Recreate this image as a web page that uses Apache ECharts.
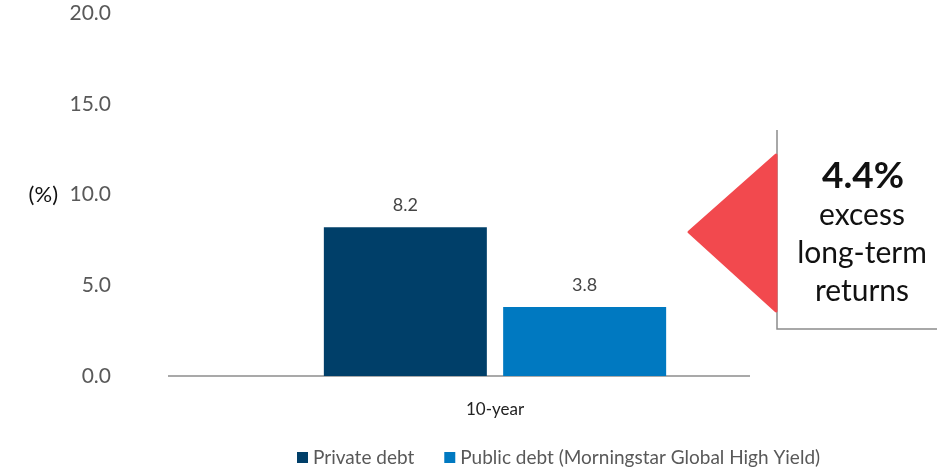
<!DOCTYPE html>
<html>
<head>
<meta charset="utf-8">
<script src="https://cdn.jsdelivr.net/npm/echarts@6/dist/echarts.min.js"></script>
<style>
html,body{margin:0;padding:0;background:#fff;}
#chart{width:943px;height:469px;}
</style>
</head>
<body>
<div id="chart"></div>
<script>
const categories = ['10-year'];
const seriesNames = ['Private debt', 'Public debt (Morningstar Global High Yield)'];
const privateDebt = [8.2];
const publicDebt = [3.8];
const yMin = 0, yMax = 20, yInterval = 5;
const yAxisName = '(%)';
const calloutHeadline = '4.4%';
const calloutText = 'excess\nlong-term\nreturns';

const FONT = 'Lato';
const chart = echarts.init(document.getElementById('chart'), null, {renderer: 'canvas'});

const option = {
  animation: false,
  backgroundColor: '#ffffff',
  textStyle: {fontFamily: FONT},
  grid: {left: 170, right: 123, top: 13, bottom: 93, containLabel: false},
  legend: {
    top: 443, left: 292,
    icon: 'rect', itemWidth: 11, itemHeight: 11, itemGap: 30,
    textStyle: {fontFamily: FONT, fontSize: 19, color: '#595959'},
    data: seriesNames
  },
  xAxis: {
    type: 'category',
    data: categories,
    axisLine: {show: false},
    axisTick: {show: false},
    axisLabel: {fontFamily: FONT, fontSize: 17, color: '#222', margin: 25}
  },
  yAxis: {
    type: 'value',
    min: yMin, max: yMax, interval: yInterval,
    name: yAxisName,
    nameLocation: 'middle',
    nameRotate: 0,
    nameGap: 112,
    nameTextStyle: {fontFamily: FONT, fontSize: 22, color: '#111'},
    axisLine: {show: false},
    axisTick: {show: false},
    splitLine: {show: false},
    axisLabel: {fontFamily: FONT, fontSize: 21, color: '#595959', margin: 59,
      formatter: v => v.toFixed(1)}
  },
  series: [
    {
      name: seriesNames[0], type: 'bar', data: privateDebt,
      barWidth: 163, barGap: '10%',
      itemStyle: {color: '#003f69'},
      label: {show: true, position: 'top', distance: 13, fontFamily: FONT, fontSize: 18, color: '#444',
        formatter: p => p.value.toFixed(1)}
    },
    {
      name: seriesNames[1], type: 'bar', data: publicDebt,
      barWidth: 163,
      itemStyle: {color: '#0079c1'},
      label: {show: true, position: 'top', distance: 13, fontFamily: FONT, fontSize: 18, color: '#444',
        formatter: p => p.value.toFixed(1)}
    }
  ]
};
chart.setOption(option);

const y0 = chart.convertToPixel({yAxisIndex: 0}, 0);
chart.setOption({
  graphic: [
    {type: 'line', shape: {x1: 168, y1: y0, x2: 750, y2: y0},
     style: {stroke: '#8c8c8c', lineWidth: 1.5}},
    {type: 'polyline', shape: {points: [[777, 130], [777, 329], [937, 329]]},
     style: {stroke: '#8c8c8c', lineWidth: 1.5, fill: null}},
    {type: 'polygon', shape: {points: [[776, 155], [689, 232], [776, 311]]},
     style: {fill: '#f2494e', stroke: '#f2494e', lineWidth: 3, lineJoin: 'round'}},
    {type: 'text', x: 863, y: 176,
     style: {text: calloutHeadline, fontFamily: FONT, fontSize: 37, fontWeight: 'bold', fill: '#111',
       textAlign: 'center', textVerticalAlign: 'middle'}},
    {type: 'text', x: 862, y: 253,
     style: {text: calloutText, fontFamily: FONT, fontSize: 30, lineHeight: 38, fill: '#111',
       textAlign: 'center', textVerticalAlign: 'middle'}}
  ]
});
</script>
</body>
</html>
